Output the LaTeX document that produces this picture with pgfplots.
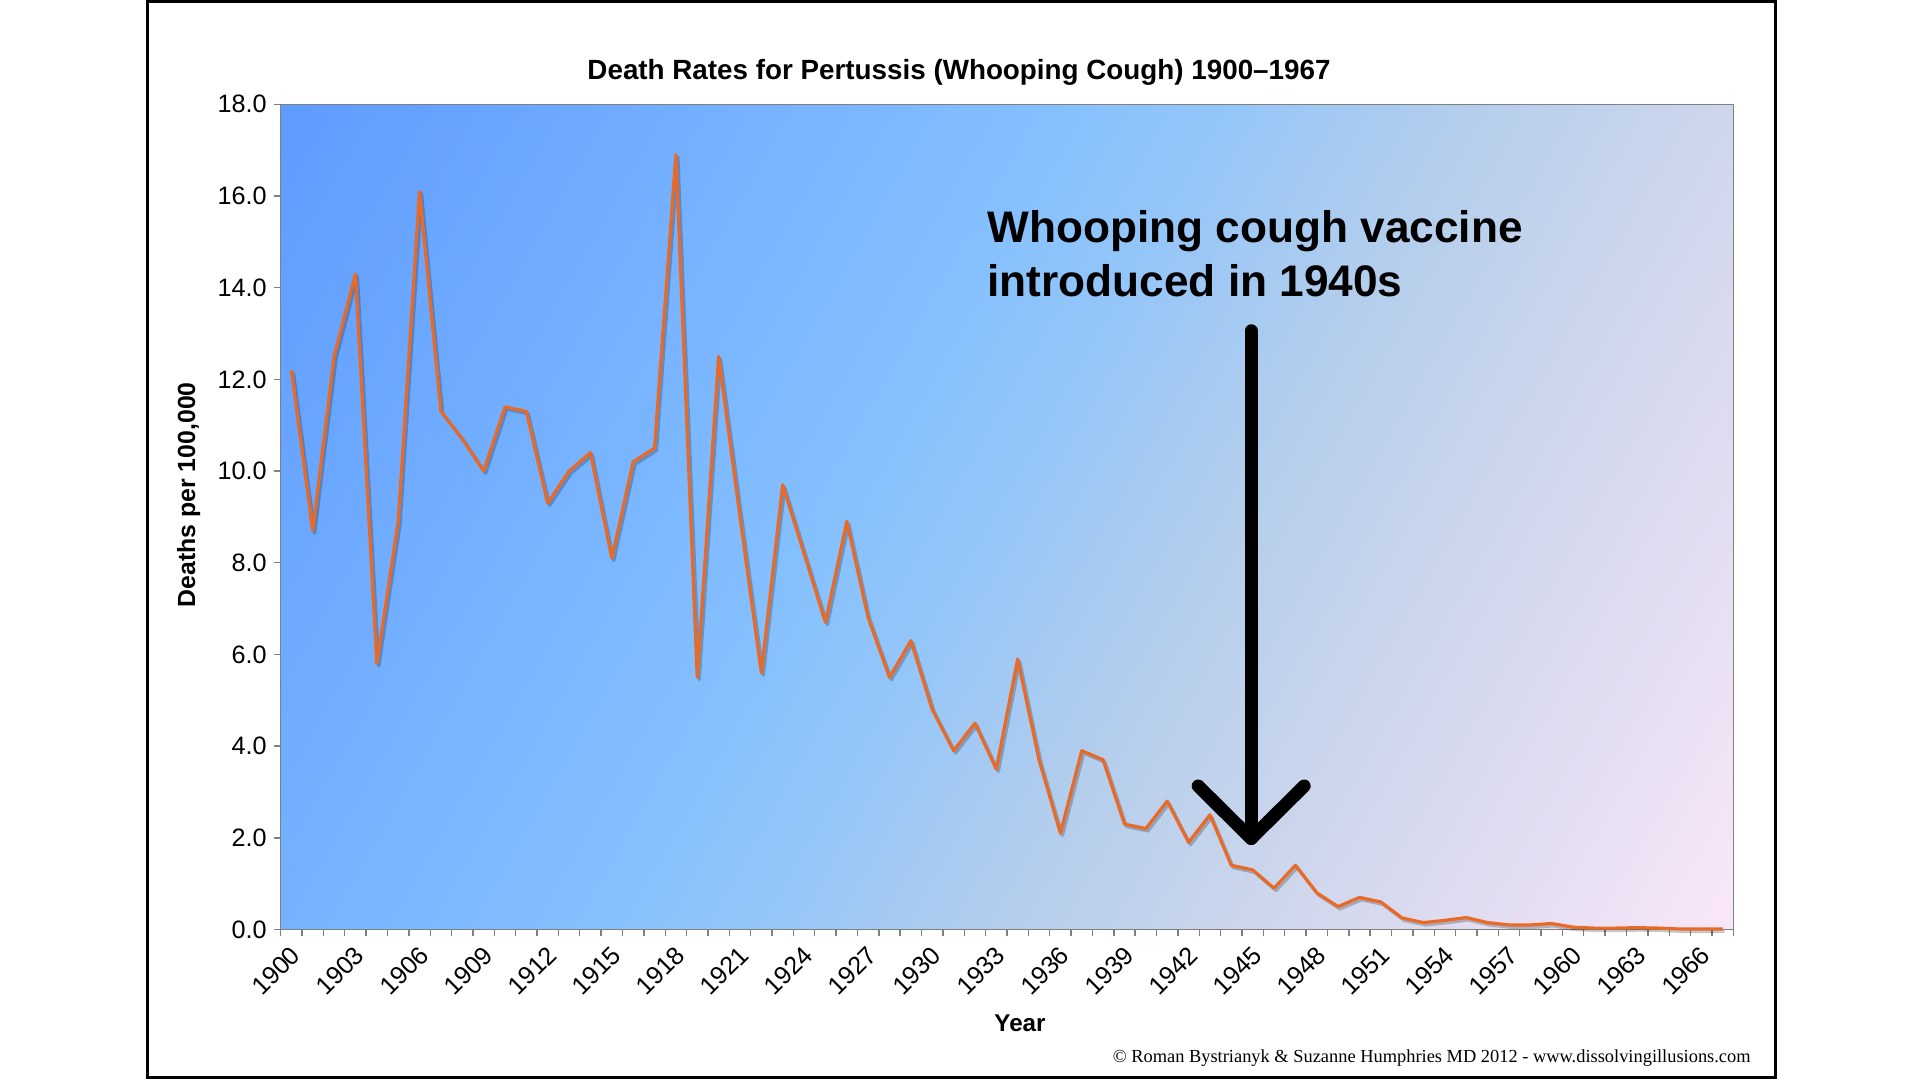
\documentclass[border=0pt]{standalone}
\usepackage{pgfplots}
\pgfplotsset{compat=1.18}
\usepackage{pgfplotstable}
\usepackage{fontspec}
\setmainfont{Liberation Sans}
\newfontfamily\serifcopy{Liberation Serif}

\definecolor{lineorange}{RGB}{232,106,38}
\definecolor{g0}{RGB}{94,155,255}
\definecolor{g1}{RGB}{118,178,255}
\definecolor{g2}{RGB}{132,192,254}
\definecolor{g3}{RGB}{150,198,248}
\definecolor{g4}{RGB}{180,206,236}
\definecolor{g5}{RGB}{205,214,236}
\definecolor{g6}{RGB}{228,222,242}
\definecolor{g7}{RGB}{250,231,248}
\definecolor{axgray}{RGB}{128,128,128}

\pgfdeclarehorizontalshading{bgshade}{100bp}{color(0bp)=(g0); color(15.9bp)=(g0); color(32.95bp)=(g1); color(43.2bp)=(g2); color(50bp)=(g3); color(58.2bp)=(g4); color(67.05bp)=(g5); color(75.9bp)=(g6); color(84.1bp)=(g7); color(100bp)=(g7)}

\pgfplotstableread{
year rate
1900 12.2
1901 8.7
1902 12.5
1903 14.3
1904 5.8
1905 8.9
1906 16.1
1907 11.3
1908 10.7
1909 10.0
1910 11.4
1911 11.3
1912 9.3
1913 10.0
1914 10.4
1915 8.1
1916 10.2
1917 10.5
1918 16.9
1919 5.5
1920 12.5
1921 9.0
1922 5.6
1923 9.7
1924 8.2
1925 6.7
1926 8.9
1927 6.8
1928 5.5
1929 6.3
1930 4.8
1931 3.9
1932 4.5
1933 3.5
1934 5.9
1935 3.7
1936 2.1
1937 3.9
1938 3.7
1939 2.3
1940 2.2
1941 2.8
1942 1.9
1943 2.5
1944 1.4
1945 1.3
1946 0.9
1947 1.4
1948 0.8
1949 0.5
1950 0.7
1951 0.6
1952 0.25
1953 0.15
1954 0.2
1955 0.26
1956 0.15
1957 0.1
1958 0.1
1959 0.13
1960 0.05
1961 0.03
1962 0.03
1963 0.04
1964 0.03
1965 0.01
1966 0.01
1967 0.01
}\ratedata

\begin{document}
\begin{tikzpicture}[x=1pt,y=1pt]
\path[use as bounding box, fill=white] (0,0) rectangle (960,540);
\draw[line width=1.5pt] (73.5,1.2) rectangle (887.75,539.2);

\begin{axis}[
  at={(140.35pt,75.25pt)}, anchor=south west,
  scale only axis, width=726.3pt, height=412.6pt,
  xmin=1899.5, xmax=1967.5, ymin=0, ymax=18,
  axis background/.style={shade, shading=bgshade, shading angle=-29.6},
  axis line style={axgray, line width=0.7pt},
  tick align=outside, tick pos=left,
  major tick length=3.5pt, minor tick length=3.5pt,
  tick style={axgray, line width=0.7pt},
  xtick={1900,1903,1906,1909,1912,1915,1918,1921,1924,1927,1930,1933,1936,1939,1942,1945,1948,1951,1954,1957,1960,1963,1966},
  xticklabels={1900,1903,1906,1909,1912,1915,1918,1921,1924,1927,1930,1933,1936,1939,1942,1945,1948,1951,1954,1957,1960,1963,1966},
  minor xtick={1899.5,1900.5,...,1967.5},
  every major x tick/.append style={draw=none},
  xticklabel style={font=\fontsize{12.6}{14}\selectfont, rotate=45, anchor=east, inner sep=1pt, xshift=-2.4pt, yshift=-6.65pt},
  ytick={0,2,...,18},
  yticklabel style={font=\fontsize{12.6}{14}\selectfont, /pgf/number format/fixed, /pgf/number format/fixed zerofill, /pgf/number format/precision=1, /pgf/number format/assume math mode=true},
  clip=false,
]
\addplot[black, opacity=0.22, line width=1.6pt, line join=round, xshift=1pt, yshift=-1.2pt, forget plot] table[x=year,y=rate] {\ratedata};
\addplot[lineorange, line width=1.6pt, line join=round] table[x=year,y=rate] {\ratedata};
\draw[line width=6.5pt, line cap=round, line join=round] (axis cs:1944.93,13.06) -- (axis cs:1944.93,1.985);
\draw[line width=6.5pt, line cap=round, line join=round] (axis cs:1942.45,3.13) -- (axis cs:1944.93,1.985) -- (axis cs:1947.41,3.13);
\end{axis}

\node[anchor=base, font=\bfseries\fontsize{13.9}{16}\selectfont] at (479.5,500.2) {Death Rates for Pertussis (Whooping Cough) 1900–1967};
\node[rotate=90, font=\bfseries\fontsize{12.4}{14}\selectfont] at (94.3,292.65) {Deaths per 100,000};
\node[anchor=base, font=\bfseries\fontsize{12.1}{14}\selectfont] at (510,24) {Year};
\node[anchor=base west, inner sep=0pt, font=\bfseries\fontsize{22.1}{26}\selectfont] at (493.5,418.75) {Whooping cough vaccine};
\node[anchor=base west, inner sep=0pt, font=\bfseries\fontsize{22.1}{26}\selectfont] at (493.5,391.85) {introduced in 1940s};
\node[anchor=base east, inner sep=0pt, font=\serifcopy\fontsize{9.2}{11}\selectfont] at (875.5,8.5) {© Roman Bystrianyk \& Suzanne Humphries MD 2012 - www.dissolvingillusions.com};
\end{tikzpicture}
\end{document}
